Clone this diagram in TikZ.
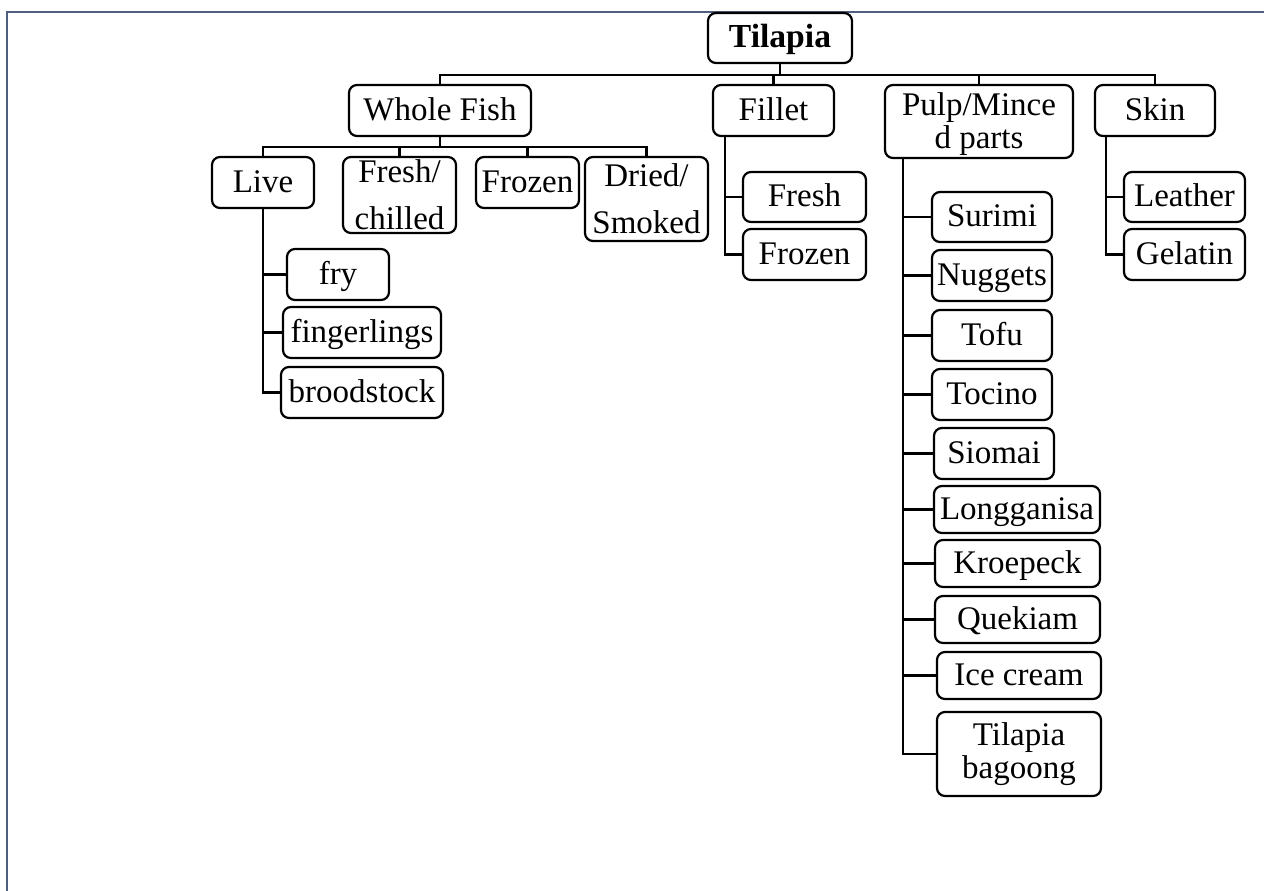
\documentclass[tikz,border=0pt]{standalone}
\usepackage{fontspec}
\setmainfont{Liberation Serif}
\definecolor{framecol}{RGB}{79,95,125}
\newcommand{\fsz}{\fontsize{16.5}{16.5}\selectfont}
\newcommand{\bfsz}{\fontsize{16.8}{16.5}\selectfont\bfseries}
\tikzset{
  bx/.style={draw, line width=1.1pt, rounded corners=4pt, inner sep=0pt, align=center, font=\fsz},
  one/.style={text height=13pt, text depth=3.5pt},
  ln/.style={draw, line width=1.1pt},
}
\begin{document}
\begin{tikzpicture}[x=0.5pt,y=-0.5pt]
\useasboundingbox (0,0) rectangle (1264,890);
\draw[framecol, line width=0.8pt] (7,892) -- (7,12) -- (1266,12);

% level 0
\node[bx,one,font=\bfsz,minimum width=72pt,minimum height=25pt] (til) at (780,38) {Tilapia};
% level 1
\node[bx,one,minimum width=91pt,minimum height=25.5pt] (whole) at (440,110.5) {Whole Fish};
\node[bx,one,minimum width=60.5pt,minimum height=25.5pt] (fillet) at (773.5,110.5) {Fillet};
\node[bx,minimum width=94pt,minimum height=36.5pt] (pulp) at (979,121.5) {\rule{0pt}{14.5pt}Pulp/Mince\\d parts};
\node[bx,one,minimum width=60pt,minimum height=25.5pt] (skin) at (1155,110.5) {Skin};
% whole fish children
\node[bx,one,minimum width=51pt,minimum height=25.5pt] (live) at (263,182.5) {Live};
\node[bx,minimum width=56.5pt,minimum height=38pt] (fresh) at (399.5,195) {Fresh/\\[7pt]chilled};
\node[bx,one,minimum width=51.5pt,minimum height=25.5pt] (froza) at (527.5,182.5) {Frozen};
\node[bx,minimum width=61.5pt,minimum height=42pt] (dried) at (646.5,199) {Dried/\\[7pt]Smoked};
% live children
\node[bx,one,minimum width=51pt,minimum height=25.5pt] (fry) at (338,274.5) {fry};
\node[bx,one,minimum width=79pt,minimum height=25.5pt] (fing) at (362,332.5) {fingerlings};
\node[bx,one,minimum width=81pt,minimum height=25.5pt] (brood) at (362,392.5) {broodstock};
% fillet children
\node[bx,one,minimum width=61.5pt,minimum height=25pt] (ffresh) at (804.5,197) {Fresh};
\node[bx,one,minimum width=61.5pt,minimum height=25.5pt] (ffroz) at (804.5,254.5) {Frozen};
% skin children
\node[bx,one,minimum width=60.5pt,minimum height=25pt] (leather) at (1184.5,197) {Leather};
\node[bx,one,minimum width=60.5pt,minimum height=25.5pt] (gelatin) at (1184.5,254.5) {Gelatin};
% pulp children
\node[bx,one,minimum width=60pt,minimum height=25pt] (surimi) at (992,217) {Surimi};
\node[bx,one,minimum width=60pt,minimum height=25.5pt] (nuggets) at (992,275.5) {Nuggets};
\node[bx,one,minimum width=60pt,minimum height=25.5pt] (tofu) at (992,335.5) {Tofu};
\node[bx,one,minimum width=60pt,minimum height=25.5pt] (tocino) at (992,394.5) {Tocino};
\node[bx,one,minimum width=60pt,minimum height=25.5pt] (siomai) at (994,453.5) {Siomai};
\node[bx,one,minimum width=83pt,minimum height=23.5pt] (longg) at (1017,509.5) {Longganisa};
\node[bx,one,minimum width=82.5pt,minimum height=23.5pt] (kroe) at (1017.5,563.5) {Kroepeck};
\node[bx,one,minimum width=82.5pt,minimum height=23.5pt] (quek) at (1017.5,619.5) {Quekiam};
\node[bx,one,minimum width=82pt,minimum height=23.5pt] (ice) at (1019,675.5) {Ice cream};
\node[bx,minimum width=82pt,minimum height=42pt] (bag) at (1019,754) {Tilapia\\bagoong};

% connectors
\foreach \c in {whole,fillet,pulp,skin}
  \draw[ln] (til.south) -- ++(0,11) -| (\c.north);
\foreach \c in {live,fresh,froza,dried}
  \draw[ln] (whole.south) -- ++(0,10) -| (\c.north);
\foreach \c in {fry,fing,brood}
  \draw[ln] (live.south) |- (\c.west);
\foreach \c in {ffresh,ffroz}
  \draw[ln] ([xshift=6.5pt]fillet.south west) |- (\c.west);
\foreach \c in {leather,gelatin}
  \draw[ln] ([xshift=6pt]skin.south west) |- (\c.west);
\foreach \c in {surimi,nuggets,tofu,tocino,siomai,longg,kroe,quek,ice,bag}
  \draw[ln] ([xshift=9.5pt]pulp.south west) |- (\c.west);
\end{tikzpicture}
\end{document}
